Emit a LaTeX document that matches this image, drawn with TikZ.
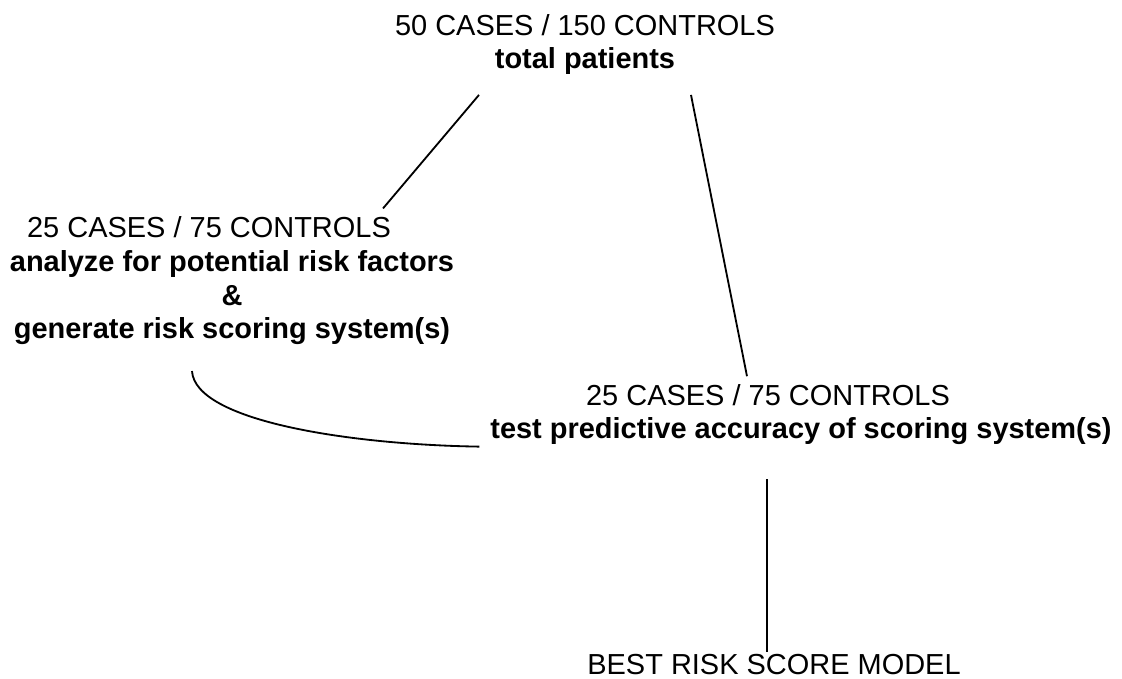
\documentclass[tikz,border=0pt]{standalone}
\usepackage{fontspec}
\setmainfont{Liberation Sans}
\usepackage{tikz}

\begin{document}
\begin{tikzpicture}[line width=1.3pt, font=\fontsize{20.6}{24.1}\selectfont,
        every node/.style={anchor=base, align=center, inner sep=0pt}]
        \useasboundingbox (0,0) rectangle (28.05,16.975);
        \node(100) at (14.625,15.25) {50 CASES / 150 CONTROLS\\\textbf{total patients}};
        \node(111) at (5.8,8.5) {25 CASES / 75 CONTROLS\hspace*{1.15cm}\\\textbf{analyze for potential risk factors}\\\textbf{\&}\hspace*{1.3cm}\\\textbf{generate risk scoring system(s)}};
        \node(112) at (20.025,6.0) {25 CASES / 75 CONTROLS\hspace*{1.65cm}\\\textbf{test predictive accuracy of scoring system(s)}};
        \node(121) at (19.35,0.1) {BEST RISK SCORE MODEL};
        \draw ([xshift=-2.65cm,yshift=-0.475cm]100.south) -- ([xshift=3.775cm,yshift=0.175cm]111.north);
        \draw ([xshift=2.65cm,yshift=-0.475cm]100.south) -- ([xshift=-1.35cm,yshift=0.175cm]112.north);
        \draw ([xshift=-1cm,yshift=-0.625cm]111.south) .. controls +(0.075,-1.25) and +(-3.25,0.05) .. ([xshift=-0.25cm,yshift=-0.8cm]112.west);
        \draw ([xshift=-0.85cm,yshift=-0.825cm]112.south) -- ([xshift=-0.175cm,yshift=0.05cm]121.north);
    \end{tikzpicture}
\end{document}
